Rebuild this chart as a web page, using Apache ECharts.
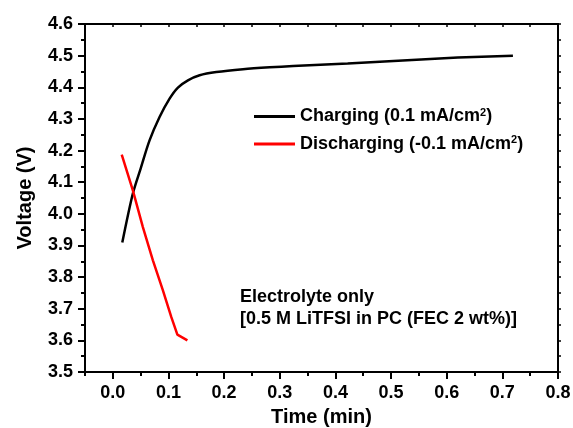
<!DOCTYPE html>
<html><head><meta charset="utf-8">
<script src="https://cdn.jsdelivr.net/npm/echarts@6/dist/echarts.min.js"></script>
<style>html,body{margin:0;padding:0;background:#fff}#c{width:573px;height:428px}</style>
</head><body><div id="c"></div>
<script>
var chargeX = [0.017,0.036,0.050,0.066,0.084,0.102,0.117,0.135,0.156,0.186,0.234,0.282,0.324,0.422,0.521,0.620,0.719];
var chargeY = [3.909,4.064,4.143,4.232,4.306,4.364,4.399,4.422,4.438,4.448,4.457,4.463,4.467,4.475,4.485,4.494,4.500];
var dischargeX = [0.016,0.036,0.054,0.072,0.090,0.105,0.116,0.134];
var dischargeY = [4.187,4.074,3.958,3.853,3.758,3.674,3.618,3.600];
var xMajorTicks = [0.0,0.1,0.2,0.3,0.4,0.5,0.6,0.7,0.8];
var seriesNames = ['Charging (0.1 mA/cm2)','Discharging (-0.1 mA/cm2)'];
var noteLines = ['Electrolyte only','[0.5 M LiTFSI in PC (FEC 2 wt%)]'];

function pairs(xs, ys){ return xs.map(function(x,i){ return [x, ys[i]]; }); }

var FONT = 'Liberation Sans, Arial, sans-serif';
var chart = echarts.init(document.getElementById('c'));
var axisLine = {show:true, onZero:false, lineStyle:{color:'#000', width:2}};
chart.setOption({
  animation:false,
  backgroundColor:'#fff',
  grid:{left:85, right:15, top:24, bottom:56, containLabel:false, outerBoundsMode:'none'},
  xAxis:[
    {type:'value', min:-0.05, max:0.8, position:'bottom',
     axisLine:axisLine,
     axisTick:{show:true, inside:false, length:7, lineStyle:{width:2,color:'#000'}, customValues:xMajorTicks},
     axisLabel:{show:true, margin:12, fontFamily:FONT, fontWeight:'bold', fontSize:18, color:'#000',
       customValues:xMajorTicks, formatter:function(v){return v.toFixed(1);}},
     splitLine:{show:false},
     name:'Time (min)', nameLocation:'middle', nameGap:35,
     nameTextStyle:{fontFamily:FONT, fontWeight:'bold', fontSize:20, color:'#000'}},
    {type:'value', min:-0.05, max:0.8, interval:0.05, position:'bottom',
     axisLine:{show:false, onZero:false}, axisTick:{show:true, length:4, lineStyle:{width:2,color:'#000'}},
     axisLabel:{show:false}, splitLine:{show:false}},
    {type:'value', min:-0.05, max:0.8, interval:0.05, position:'top',
     axisLine:axisLine, axisTick:{show:true, inside:true, length:3, lineStyle:{width:1.5,color:'#000'}},
     axisLabel:{show:false}, splitLine:{show:false}}
  ],
  yAxis:[
    {type:'value', min:3.5, max:4.6, interval:0.1, position:'left',
     axisLine:axisLine,
     axisTick:{show:true, inside:false, length:7, lineStyle:{width:2,color:'#000'}},
     minorTick:{show:true, splitNumber:2, length:4, lineStyle:{width:2,color:'#000'}},
     axisLabel:{margin:12, fontFamily:FONT, fontWeight:'bold', fontSize:18, color:'#000',
       formatter:function(v){return v.toFixed(1);}},
     splitLine:{show:false},
     name:'Voltage (V)', nameLocation:'middle', nameGap:50,
     nameTextStyle:{fontFamily:FONT, fontWeight:'bold', fontSize:20, color:'#000'}},
    {type:'value', min:3.5, max:4.6, interval:0.05, position:'right',
     axisLine:axisLine, axisTick:{show:true, inside:false, length:3, lineStyle:{width:1.5,color:'#000'}},
     axisLabel:{show:false}, splitLine:{show:false}}
  ],
  legend:{
    orient:'vertical', left:254, top:107, padding:0, itemWidth:41, itemHeight:3, itemGap:9,
    icon:'rect',
    data:seriesNames,
    formatter:function(name){
      var base = name.slice(0, name.length-2);
      return '{a|' + base + '}{s|2}{a|)}';
    },
    textStyle:{color:'#000', rich:{
      a:{fontFamily:FONT, fontWeight:'bold', fontSize:18, color:'#000'},
      s:{fontFamily:FONT, fontWeight:'bold', fontSize:11, color:'#000', padding:[0,0,8,0]}
    }}
  },
  graphic:[{type:'text', left:240, top:286,
    style:{text:noteLines.join('\n'), font:'bold 18px ' + FONT, fill:'#000', lineHeight:22}}],
  series:[
    {name:seriesNames[0], type:'line', xAxisIndex:0, yAxisIndex:0, data:pairs(chargeX, chargeY),
     symbol:'none', smooth:0.3, lineStyle:{color:'#000', width:2.5}, itemStyle:{color:'#000'}},
    {name:seriesNames[1], type:'line', xAxisIndex:0, yAxisIndex:0, data:pairs(dischargeX, dischargeY),
     symbol:'none', lineStyle:{color:'#ff0000', width:2.5}, itemStyle:{color:'#ff0000'}}
  ]
});
</script></body></html>
